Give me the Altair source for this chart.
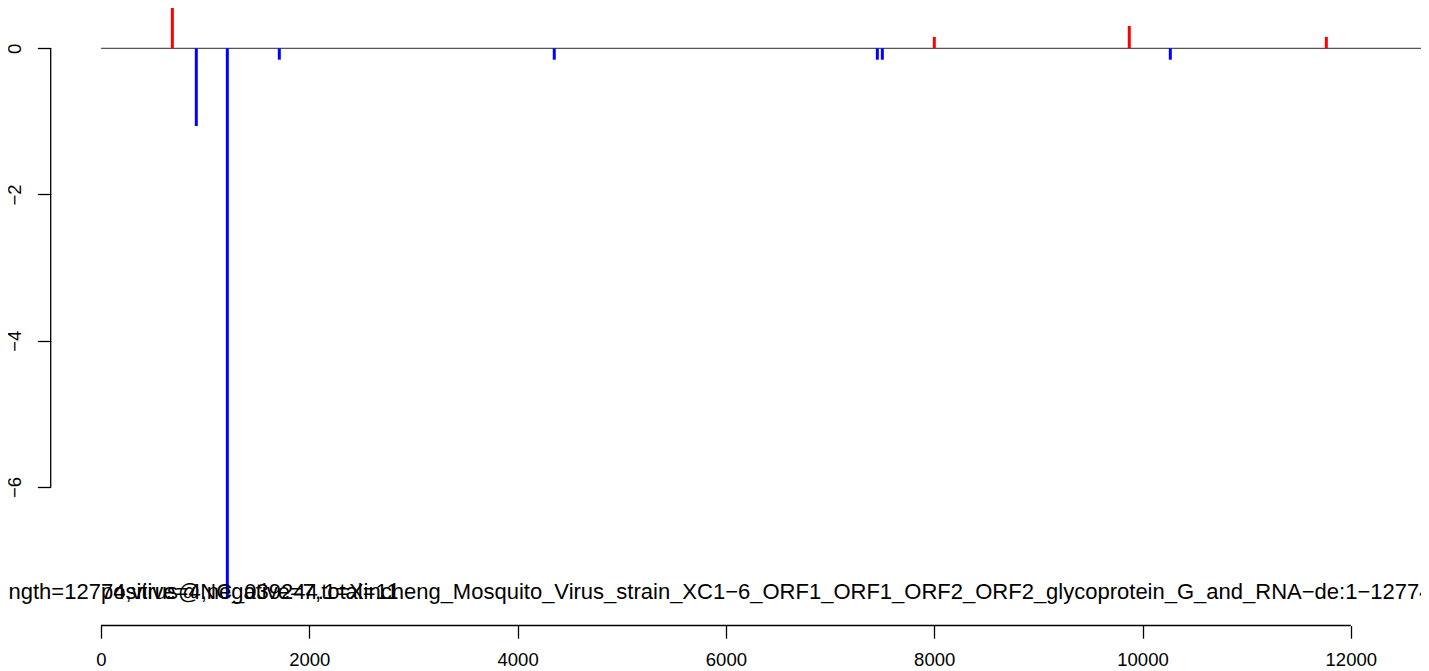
import altair as alt
import pandas as pd

# Positive-strand hits (red) and negative-strand hits (blue)
pos_x = [685, 8001, 9873, 11765]
pos_y = [0.606, 0.156, 0.305, 0.156]
neg_x = [915, 1213, 1712, 4352, 7454, 7502, 10267]
neg_y = [-1.063, -7.52, -0.156, -0.156, -0.156, -0.156, -0.156]

genome_len = 12774
x_ticks = [0, 2000, 4000, 6000, 8000, 10000, 12000]
y_ticks = [0, -2, -4, -6]

label_main = ("length=12774,virus@NC_039244.1=Xincheng_Mosquito_Virus_strain_XC1\u22126_"
              "ORF1_ORF1_ORF2_ORF2_glycoprotein_G_and_RNA\u2212de:1\u221212774")
label_counts = "positive=4,negative=7,total=11"

FONT = "Liberation Sans"
W, H = 1320, 595
XDOM = [0, 12674]
YDOM = [-7.588, 0.551]

bars = pd.DataFrame({
    "pos": pos_x + neg_x,
    "val": pos_y + neg_y,
    "base": [0.0] * (len(pos_x) + len(neg_x)),
    "strand": ["positive"] * len(pos_x) + ["negative"] * len(neg_x),
})

xs = alt.Scale(domain=XDOM, nice=False, zero=False)
ys = alt.Scale(domain=YDOM, nice=False, zero=False)

zero_line = alt.Chart(pd.DataFrame({"a": [1], "b": [genome_len], "y": [0]})).mark_rule(
    color="#555555", strokeWidth=1.3
).encode(
    x=alt.X("a:Q", scale=xs, axis=alt.Axis(
        values=x_ticks, format="d", domain=False, grid=False, offset=22.5, tickSize=12.7,
        tickColor="black", tickWidth=1.3, labelFontSize=18.5, labelFont=FONT,
        labelColor="black", labelPadding=12, title=None, labelFlush=False)),
    x2="b:Q",
    y=alt.Y("y:Q", scale=ys, axis=alt.Axis(
        values=y_ticks, format="d", domain=False, grid=False, offset=50.3, tickSize=13.3,
        tickColor="black", tickWidth=1.3, labelFontSize=18.5, labelFont=FONT,
        labelColor="black", labelAngle=270, labelAlign="center",
        labelBaseline="bottom", labelPadding=13, title=None, labelFlush=False)),
)

bar_marks = alt.Chart(bars).mark_rule(strokeWidth=3).encode(
    x=alt.X("pos:Q", scale=xs),
    y=alt.Y("val:Q", scale=ys),
    y2="base:Q",
    color=alt.Color("strand:N", scale=alt.Scale(domain=["positive", "negative"],
                                                range=["#FF0000", "#0000FF"]), legend=None),
)

x_axis_line = alt.Chart(pd.DataFrame({"a": [x_ticks[0]], "b": [x_ticks[-1]]})).mark_rule(
    color="black", strokeWidth=1.3
).encode(x=alt.X("a:Q", scale=xs), x2="b:Q", y=alt.value(H + 22.5))

y_axis_line = alt.Chart(pd.DataFrame({"a": [y_ticks[0]], "b": [y_ticks[-1]]})).mark_rule(
    color="black", strokeWidth=1.3
).encode(y=alt.Y("a:Q", scale=ys), y2="b:Q", x=alt.value(-50.3))

txt_main = alt.Chart(pd.DataFrame({"x": [genome_len], "t": [label_main]})).mark_text(
    align="right", baseline="alphabetic", font=FONT, fontSize=22, color="black"
).encode(x=alt.X("x:Q", scale=xs), y=alt.value(591), text="t:N")

txt_counts = alt.Chart(pd.DataFrame({"x": [0], "t": [label_counts]})).mark_text(
    align="left", baseline="alphabetic", font=FONT, fontSize=22, color="black"
).encode(x=alt.X("x:Q", scale=xs), y=alt.value(591), text="t:N")

chart = alt.layer(zero_line, bar_marks, x_axis_line, y_axis_line, txt_main, txt_counts).properties(
    width=W, height=H,
    autosize=alt.AutoSizeParams(type="none"),
    padding={"left": 93, "top": 0, "right": 0, "bottom": 68},
).configure(background="white", view=alt.ViewConfig(stroke=None))

chart.save("out.html", embed_options={"renderer": "svg", "actions": False})
